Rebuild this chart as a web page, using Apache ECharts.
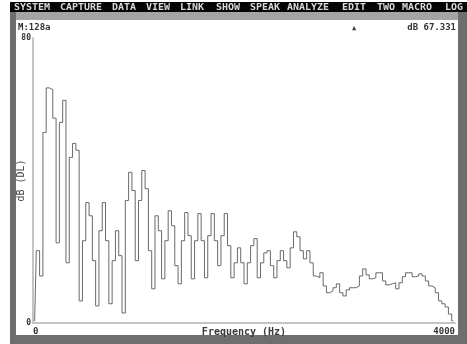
<!DOCTYPE html>
<html>
<head>
<meta charset="utf-8">
<script src="https://cdn.jsdelivr.net/npm/echarts@6/dist/echarts.min.js"></script>
<style>
  html, body { margin: 0; padding: 0; background: #fff; }
  #chart { width: 467px; height: 344px; }
</style>
</head>
<body>
<div id="chart"></div>
<script>
// Spectrum of one analysis frame: 128 bins spanning 0–4000 Hz, level in dB.
const binCount = 128;
const maxFreq = 4000;
const levelDb = [
  0.5, 20.3, 13.2, 53.5, 66.0, 65.5, 57.5, 22.5, 56.3, 62.5,
  16.9, 46.5, 50.4, 48.5, 6.2, 23.1, 33.8, 30.1, 17.5, 4.8,
  25.9, 33.8, 23.1, 5.4, 17.5, 25.9, 18.9, 2.8, 34.4, 42.3,
  37.2, 17.5, 34.4, 42.8, 37.7, 20.3, 9.6, 30.1, 25.9, 12.4,
  23.1, 31.5, 27.3, 16.1, 11.0, 23.1, 31.0, 24.5, 12.4, 23.1,
  30.7, 23.1, 12.7, 24.5, 30.7, 23.1, 16.1, 24.5, 30.7, 21.7,
  12.7, 16.9, 21.1, 16.9, 11.0, 16.9, 21.7, 23.7, 12.7, 16.9,
  19.7, 20.3, 16.1, 12.7, 17.5, 20.3, 17.5, 15.5, 21.1, 25.6,
  24.2, 20.3, 18.0, 20.3, 16.9, 13.2, 12.7, 14.1, 10.4, 8.5,
  9.0, 9.9, 11.0, 8.5, 7.6, 9.3, 9.9, 9.9, 10.4, 13.2,
  15.2, 13.5, 12.4, 12.7, 14.1, 14.1, 11.8, 10.7, 11.0, 11.3,
  9.6, 11.3, 13.0, 14.1, 14.1, 13.0, 13.2, 13.8, 13.2, 11.8,
  10.4, 9.9, 8.5, 6.2, 5.4, 4.5, 2.5, 0.6
];
const yTicks = [0, 80];
const xTicks = [0, 4000];
const menuItems = ['SYSTEM', 'CAPTURE', 'DATA', 'VIEW', 'LINK', 'SHOW',
                   'SPEAK', 'ANALYZE', 'EDIT', 'TWO', 'MACRO', 'LOG'];
const statusLeft = 'M:128a';
const statusMarker = '▲';
const statusRight = 'dB 67.331';

// centre frequency of each bin
const binWidth = maxFreq / binCount;
const points = levelDb.map((v, i) => [(i + 0.5) * binWidth, v]);

// menu bar layout (left edge of each item)
const menuLeft = [14, 60, 112, 146, 180, 216, 250, 287, 342, 377, 402, 445];
const mono = '"DejaVu Sans Mono", monospace';

const frame = [
  { type: 'rect', shape: { x: 10, y: 2, width: 457, height: 10 }, style: { fill: '#050505' } },
  { type: 'rect', shape: { x: 10, y: 12, width: 457, height: 8 }, style: { fill: '#a4a4a4' } },
  { type: 'rect', shape: { x: 10, y: 12, width: 6, height: 332 }, style: { fill: '#6e6e6e' } },
  { type: 'rect', shape: { x: 458, y: 12, width: 9, height: 332 }, style: { fill: '#6e6e6e' } },
  { type: 'rect', shape: { x: 10, y: 335, width: 457, height: 9 }, style: { fill: '#6e6e6e' } }
];
const menuText = menuItems.map((t, i) => ({
  type: 'text', x: menuLeft[i], y: 7, scaleY: 0.8, originY: 7,
  style: { text: t, fill: '#d8d8d8', font: 'bold 10px ' + mono, textVerticalAlign: 'middle' }
}));
const statusText = [
  { type: 'text', x: 18, y: 28, style: { text: statusLeft, fill: '#333', font: 'bold 9px ' + mono, textVerticalAlign: 'middle' } },
  { type: 'text', x: 352, y: 28, style: { text: statusMarker, fill: '#444', font: '7px ' + mono, textVerticalAlign: 'middle' } },
  { type: 'text', x: 456, y: 28, style: { text: statusRight, fill: '#333', font: 'bold 9px ' + mono, textAlign: 'right', textVerticalAlign: 'middle' } }
];

const chart = echarts.init(document.getElementById('chart'), null, { renderer: 'canvas' });
chart.setOption({
  backgroundColor: '#ffffff',
  animation: false,
  graphic: { elements: frame.concat(menuText, statusText) },
  grid: { left: 33, right: 12, top: 38, bottom: 21, outerBoundsMode: 'none', containLabel: false },
  xAxis: {
    type: 'value', min: xTicks[0], max: xTicks[1], interval: xTicks[1] - xTicks[0],
    name: 'Frequency (Hz)', nameLocation: 'middle', nameGap: 4, nameMoveOverlap: false,
    nameTextStyle: { fontFamily: mono, fontSize: 10, fontWeight: 'bold', color: '#3a3a3a', verticalAlign: 'top' },
    axisLine: { lineStyle: { color: '#c4c4c4', width: 2 } },
    axisTick: { show: false },
    splitLine: { show: false },
    axisLabel: { fontFamily: mono, fontSize: 9, fontWeight: 'bold', color: '#333', margin: 4,
                 alignMinLabel: 'left', alignMaxLabel: 'right', formatter: v => String(v) }
  },
  yAxis: {
    type: 'value', min: yTicks[0], max: yTicks[1], interval: yTicks[1] - yTicks[0],
    name: 'dB (DL)', nameLocation: 'middle', nameGap: 7, nameRotate: 90, nameMoveOverlap: false,
    nameTextStyle: { fontFamily: mono, fontSize: 10, color: '#444' },
    axisLine: { show: true, lineStyle: { color: '#c4c4c4', width: 2 } },
    axisTick: { show: false },
    splitLine: { show: false },
    axisLabel: { fontFamily: mono, fontSize: 8, fontWeight: 'bold', color: '#333', margin: 2,
                 formatter: v => String(v) }
  },
  series: [{
    type: 'line',
    data: points,
    step: 'middle',
    showSymbol: false,
    lineStyle: { color: '#6a6a6a', width: 1 }
  }]
});
</script>
</body>
</html>
